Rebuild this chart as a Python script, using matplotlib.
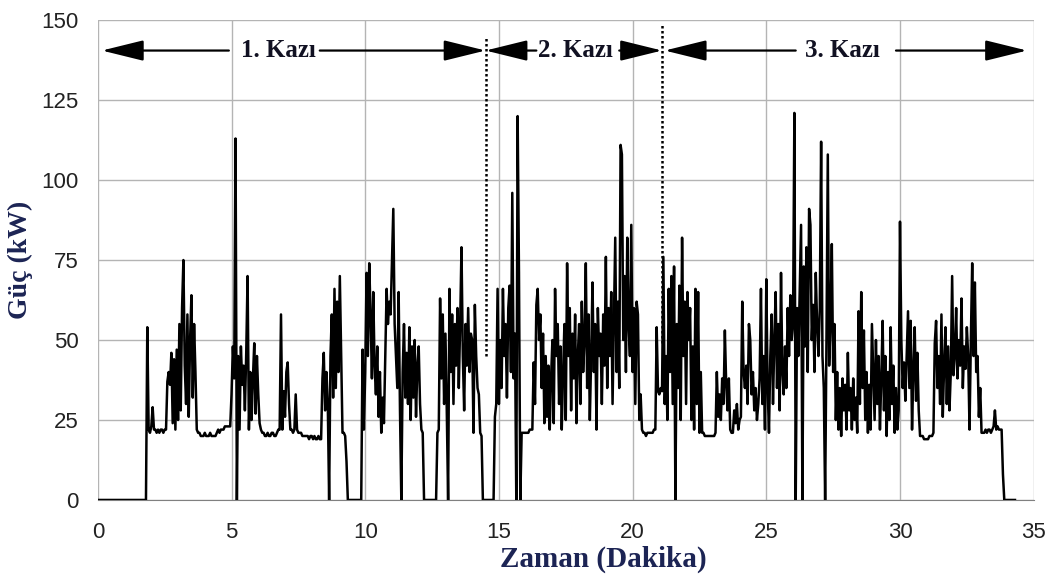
import numpy as np
import matplotlib
matplotlib.use("Agg")
import matplotlib.pyplot as plt

# sampling step of the logger, minutes
dt = 0.05

# power (kW), one row = one minute (20 samples)
m00 = [0] * 20
m01 = [0] * 17 + [54, 22, 21]
m02 = [23, 29, 22, 22, 21, 22, 21, 22, 22, 21, 22, 22, 37, 40, 36, 46, 24, 44, 22, 47]
m03 = [25, 55, 28, 60, 75, 42, 30, 58, 26, 50, 64, 32, 55, 40, 22, 21, 21, 20, 20, 20]
m04 = [21, 20, 20, 20, 21, 20, 20, 20, 20, 21, 22, 21, 22, 22, 22, 23, 23, 23, 23, 23]
m05 = [33, 48, 38, 113, 0, 45, 22, 48, 36, 42, 28, 46, 70, 22, 40, 25, 38, 49, 27, 45]
m06 = [33, 24, 22, 21, 21, 20, 20, 21, 20, 20, 21, 21, 20, 20, 21, 22, 22, 58, 22, 34]
m07 = [26, 40, 43, 30, 22, 22, 21, 22, 33, 22, 21, 21, 21, 20, 20, 20, 20, 20, 19, 20]
m08 = [20, 19, 20, 19, 19, 20, 19, 19, 38, 46, 28, 40, 30, 0, 45, 58, 32, 66, 35, 62]
m09 = [40, 70, 45, 21, 21, 20, 12, 0, 0, 0, 0, 0, 0, 0, 0, 0, 0, 0, 47, 22]
m10 = [40, 71, 45, 74, 58, 38, 65, 42, 33, 48, 26, 40, 21, 32, 24, 45, 66, 55, 62, 58]
m11 = [75, 91, 55, 45, 35, 65, 28, 0, 40, 55, 32, 46, 30, 54, 25, 48, 32, 50, 26, 42]
m12 = [48, 30, 22, 21, 0, 0, 0, 0, 0, 0, 0, 0, 0, 0, 21, 22, 63, 38, 58, 30]
m13 = [52, 28, 0, 66, 40, 58, 30, 55, 42, 60, 35, 55, 79, 45, 28, 55, 42, 60, 40, 52]
m14 = [50, 21, 61, 45, 35, 33, 21, 20, 0, 0, 0, 0, 0, 0, 0, 0, 0, 26, 30, 66]
m15 = [30, 50, 35, 66, 45, 55, 32, 60, 67, 40, 96, 38, 52, 0, 120, 71, 0, 21, 21, 21]
m16 = [21, 21, 21, 22, 22, 22, 43, 30, 61, 66, 50, 58, 35, 52, 24, 45, 26, 42, 22, 38]
m17 = [50, 24, 66, 45, 55, 30, 48, 22, 40, 55, 25, 74, 45, 60, 28, 52, 38, 58, 24, 45]
m18 = [55, 30, 62, 40, 50, 74, 35, 58, 25, 45, 68, 40, 55, 22, 60, 45, 52, 30, 58, 42]
m19 = [76, 35, 60, 45, 65, 30, 55, 82, 40, 62, 35, 111, 108, 50, 70, 40, 82, 55, 45, 86]
m20 = [40, 60, 30, 62, 58, 25, 33, 22, 21, 21, 20, 21, 21, 21, 21, 21, 22, 22, 54, 34]
m21 = [33, 35, 34, 76, 30, 45, 25, 66, 40, 70, 30, 73, 0, 55, 35, 67, 25, 82, 45, 62]
m22 = [30, 65, 50, 60, 25, 48, 22, 66, 30, 65, 21, 40, 21, 21, 20, 20, 20, 20, 20, 20]
m23 = [20, 20, 21, 40, 26, 33, 25, 38, 30, 53, 36, 28, 38, 22, 21, 21, 28, 24, 30, 22]
m24 = [25, 26, 62, 40, 35, 42, 30, 55, 50, 33, 40, 28, 35, 25, 30, 38, 66, 30, 45, 22]
m25 = [69, 35, 21, 45, 58, 30, 50, 65, 35, 55, 28, 71, 40, 33, 48, 35, 60, 45, 64, 50]
m26 = [55, 121, 0, 60, 45, 65, 86, 0, 73, 48, 79, 40, 91, 86, 50, 61, 40, 71, 55, 45]
m27 = [60, 112, 45, 35, 0, 50, 108, 42, 55, 80, 40, 55, 25, 40, 22, 35, 20, 38, 28, 36]
m28 = [22, 46, 28, 35, 22, 38, 25, 32, 21, 59, 30, 65, 35, 53, 25, 40, 21, 36, 22, 55]
m29 = [40, 25, 50, 30, 45, 22, 38, 56, 28, 45, 20, 40, 25, 54, 30, 42, 21, 35, 22, 28]
m30 = [87, 50, 35, 43, 31, 45, 59, 35, 56, 22, 40, 54, 31, 46, 28, 20, 20, 20, 19, 19]
m31 = [19, 19, 20, 20, 20, 21, 49, 56, 35, 45, 30, 58, 26, 42, 54, 30, 48, 28, 40, 70]
m32 = [39, 45, 60, 38, 50, 42, 63, 35, 48, 41, 54, 45, 22, 50, 74, 45, 68, 40, 45, 26]
m33 = [35, 21, 21, 21, 22, 21, 22, 22, 21, 22, 23, 28, 22, 23, 22, 22, 22, 8, 0, 0]
m34 = [0] * 7

power = np.concatenate([m00, m01, m02, m03, m04, m05, m06, m07, m08, m09,
                        m10, m11, m12, m13, m14, m15, m16, m17, m18, m19,
                        m20, m21, m22, m23, m24, m25, m26, m27, m28, m29,
                        m30, m31, m32, m33, m34]).astype(float)
time = np.arange(len(power)) * dt

# excavation phases
kazi_labels = ['1. Kazı', '2. Kazı', '3. Kazı']
kazi_start = [0.15, 14.5, 21.2]
kazi_end = [14.5, 21.1, 34.75]
kazi_text_x = [6.75, 17.85, 27.85]
kazi_gap = [(4.9, 8.3), (16.4, 19.5), (26.1, 29.85)]
sep_x = [14.5, 21.1]
sep_top = [145, 148.5]
sep_bottom = [45, 49]

navy = '#1c2454'
serif = 'Liberation Serif'

fig = plt.figure(figsize=(10.52, 5.76), dpi=100)
ax = fig.add_axes([0.093, 0.132, 0.8896, 0.833])

ax.plot(time, power, color='black', lw=1.8, zorder=3)

ax.set_xlim(0, 35)
ax.set_ylim(0, 150)
ax.set_xticks(np.arange(0, 36, 5))
ax.set_yticks(np.arange(0, 151, 25))
ax.grid(True, color='#b4b4b4', lw=1.0)
for s in ['top', 'right', 'left']:
    ax.spines[s].set_visible(False)
ax.spines['bottom'].set_color('#808080')
ax.tick_params(axis='y', length=0, pad=14, labelsize=16, labelcolor='#222222')
ax.tick_params(axis='x', length=0, pad=16, labelsize=16, labelcolor='#222222')
for lab in ax.get_xticklabels() + ax.get_yticklabels():
    lab.set_family(['Liberation Sans Narrow', 'Liberation Sans'])

ax.set_xlabel('Zaman (Dakika)', family=serif, fontweight='bold', fontsize=21,
              color=navy)
ax.xaxis.set_label_coords(0.54, -0.095)
ax.set_ylabel('Güç (kW)', family=serif, fontweight='bold', fontsize=20,
              color=navy, labelpad=6)

ay = 140.5
style = '-|>,head_length=1.3,head_width=0.32'
for lab, x0, x1, xt, (g0, g1) in zip(kazi_labels, kazi_start, kazi_end, kazi_text_x, kazi_gap):
    ax.annotate('', xy=(x0, ay), xytext=(g0, ay),
                arrowprops=dict(arrowstyle=style, color='black', lw=1.6,
                                mutation_scale=20, shrinkA=0, shrinkB=0))
    ax.annotate('', xy=(x1, ay), xytext=(g1, ay),
                arrowprops=dict(arrowstyle=style, color='black', lw=1.6,
                                mutation_scale=20, shrinkA=0, shrinkB=0))
    ax.text(xt, ay, lab, family=serif, fontweight='bold', fontsize=18,
            ha='center', va='center', color='#111122')

for x, top, bot in zip(sep_x, sep_top, sep_bottom):
    ax.plot([x, x], [bot, top], color='black', lw=1.8, ls=(0, (1, 1)), zorder=4)

fig.savefig('out.png', dpi=100)
